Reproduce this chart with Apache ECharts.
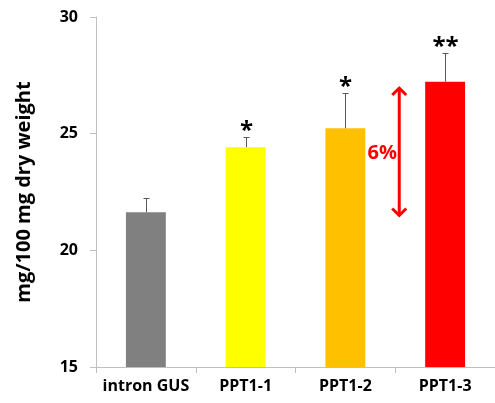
<!DOCTYPE html>
<html>
<head>
<meta charset="utf-8">
<script src="https://cdn.jsdelivr.net/npm/echarts@6/dist/echarts.min.js"></script>
<style>html,body{margin:0;padding:0;background:#fff}#c{width:495px;height:403px}</style>
</head>
<body>
<div id="c"></div>
<script>
const categories = ['intron GUS', 'PPT1-1', 'PPT1-2', 'PPT1-3'];
const means = [21.63, 24.42, 25.23, 27.23];
const errors = [0.6, 0.42, 1.5, 1.21];
const significance = ['', '*', '*', '**'];
const barColors = ['#808080', '#FFFF00', '#FFC000', '#FF0000'];
const yMin = 15, yMax = 30, yStep = 5;
const arrowX = 3.04;
const arrowFrom = 21.45;
const arrowTo = 27.0;
const arrowLabel = '6%';
const arrowLabelPos = [2.87, 24.15];

const FONT = '"Open Sans", sans-serif';
const chart = echarts.init(document.getElementById('c'), null, {renderer: 'canvas'});

chart.setOption({
  animation: false,
  backgroundColor: '#fff',
  grid: {left: 96, top: 17, width: 400, height: 350, containLabel: false},
  xAxis: [{
    type: 'category',
    data: categories,
    axisLine: {lineStyle: {color: '#bfbfbf', width: 1}},
    axisTick: {show: true, length: 6, lineStyle: {color: '#bfbfbf'}},
    axisLabel: {fontFamily: FONT, fontWeight: 'bold', fontSize: 16, color: '#000', margin: 11, interval: 0}
  }, {
    type: 'value', min: 0, max: 4, show: false
  }],
  yAxis: {
    type: 'value', min: yMin, max: yMax, interval: yStep,
    name: 'mg/100 mg dry weight',
    nameLocation: 'middle',
    nameGap: 62,
    nameTextStyle: {fontFamily: FONT, fontWeight: 'bold', fontSize: 20, color: '#000'},
    axisLine: {show: true, lineStyle: {color: '#bfbfbf', width: 1}},
    axisTick: {show: true, length: 6, lineStyle: {color: '#bfbfbf'}},
    splitLine: {show: false},
    axisLabel: {fontFamily: FONT, fontWeight: 'bold', fontSize: 16, color: '#000', margin: 18}
  },
  series: [{
    type: 'bar',
    barWidth: '40%',
    data: means.map((v, i) => ({value: v, itemStyle: {color: barColors[i]}}))
  }, {
    type: 'custom',
    xAxisIndex: 0,
    data: means.map((v, i) => [i, v, v + errors[i]]),
    renderItem: function (params, api) {
      const i = api.value(0);
      const base = api.coord([i, api.value(1)]);
      const top = api.coord([i, api.value(2)]);
      const x = Math.round(base[0]) + 0.5;
      const children = [
        {type: 'line', shape: {x1: x, y1: base[1], x2: x, y2: top[1]}, style: {stroke: '#595959', lineWidth: 1}},
        {type: 'line', shape: {x1: x - 3, y1: Math.round(top[1]) + 0.5, x2: x + 3, y2: Math.round(top[1]) + 0.5}, style: {stroke: '#595959', lineWidth: 1}}
      ];
      const mark = significance[params.dataIndex];
      if (mark) {
        children.push({type: 'text', style: {text: mark, x: x, y: top[1] - 6, align: 'center', verticalAlign: 'middle',
          font: 'bold 24px ' + FONT, fill: '#000'}});
      }
      return {type: 'group', children: children};
    },
    z: 5
  }, {
    type: 'custom',
    xAxisIndex: 1,
    data: [[arrowX, arrowFrom, arrowTo]],
    renderItem: function (params, api) {
      const p1 = api.coord([api.value(0), api.value(2)]);
      const p2 = api.coord([api.value(0), api.value(1)]);
      const x = p1[0];
      const lbl = api.coord(arrowLabelPos);
      const st = {stroke: '#FF0000', lineWidth: 3, fill: null, lineJoin: 'miter'};
      return {type: 'group', children: [
        {type: 'line', shape: {x1: x, y1: p1[1] + 1, x2: x, y2: p2[1] - 1}, style: st},
        {type: 'polyline', shape: {points: [[x - 7, p1[1] + 8], [x, p1[1] + 1], [x + 7, p1[1] + 8]]}, style: st},
        {type: 'polyline', shape: {points: [[x - 7, p2[1] - 8], [x, p2[1] - 1], [x + 7, p2[1] - 8]]}, style: st},
        {type: 'text', style: {text: arrowLabel, x: lbl[0], y: lbl[1], align: 'center', verticalAlign: 'middle',
          font: 'bold 20px ' + FONT, fill: '#FF0000'}}
      ]};
    },
    z: 6
  }]
});
</script>
</body>
</html>
